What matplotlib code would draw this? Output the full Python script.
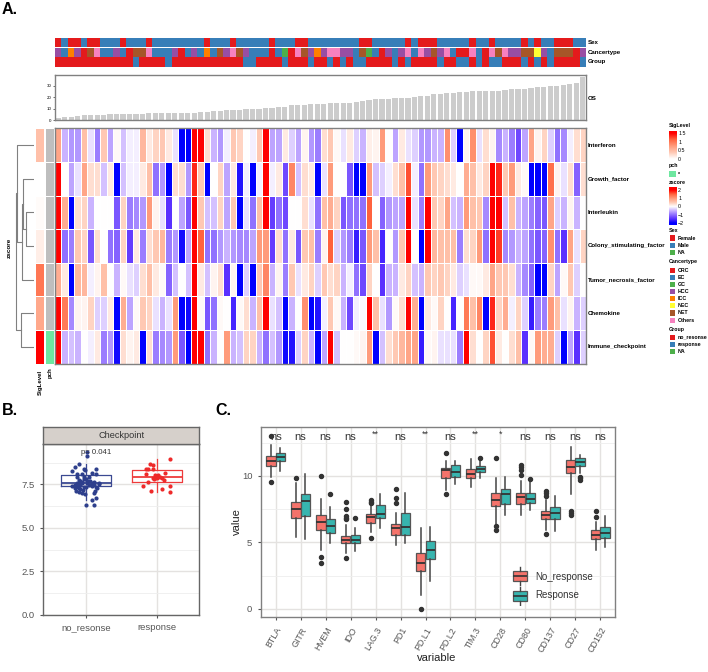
"""Composite figure: immune signature heatmap, checkpoint boxplot, per-gene boxplots."""
import matplotlib

matplotlib.use("Agg")
import matplotlib.pyplot as plt
import numpy as np
from matplotlib.colors import LinearSegmentedColormap, ListedColormap
from matplotlib.transforms import Affine2D

W, H = 708, 672
plt.rcParams["font.family"] = ["Liberation Sans", "DejaVu Sans"]

# ---- panel A data
ROWS = ["Interferon", "Growth_factor", "Interleukin", "Colony_stimulating_factor",
        "Tumor_necrosis_factor", "Chemokine", "Immune_checkpoint"]
INTERFERON = [0.9,-0.5,-0.7,-0.7,0.6,-0.2,-0.9,0.5,-0.6,0.05,-0.4,-0.1,-0.1,0.7,0.2,0.4,0.5,0.2,-0.2,-2,-2,2,2,0.3,-0.5,-0.7,-0.1,0.5,0.4,0,-0.1,0.5,2,-0.6,-0.6,0.2,-0.3,-0.6,0.1,-0.7,-0.9,
              0.3,0.5,0.05,-0.2,0.2,-0.3,-0.5,0.15,0.1,1.0,0,-0.6,0.2,-0.2,-0.3,-0.7,-0.7,-0.5,-0.5,1.1,-0.3,-2,0.1,1.1,-0.2,0.3,0.1,-0.8,-0.5,-0.9,-1.3,-0.6,0.9,0.1,0.4,-0.3,-1,-0.8,-0.1,0.3,0.4]
GROWTH = [2,0,-0.6,-0.2,0.9,0.3,0.3,-0.4,0.2,-2,-0.4,-0.1,-0.1,0.2,0.6,-1,-0.7,-2,0.3,0.3,-0.7,1.8,0.5,-2,0,0.4,-0.6,0.2,-1.8,-0.1,-2,-0.1,2,-0.1,0.2,-1.3,1.2,-0.4,0.3,0.2,-2,
          -0.2,1,0,0,-1.2,-2,-2,1,-0.4,-0.3,-0.1,0.3,0.6,1.6,-0.1,-1,1,0.5,0.4,0.3,0.2,0,0.8,0.6,0.2,0.4,2,1.8,0.5,1,0.2,0.05,-2,-2,-2,1.4,0.1,-0.2,0.3,-1.1,0.3]
INTERLEUKIN = [2,0.8,-2,0.3,0.4,-0.5,0,0,0,-1.2,0.4,-0.9,-0.8,-0.7,1,0.1,-0.2,-1.5,0,-0.6,-1.2,2,0.5,-0.4,-0.4,0.4,-0.6,0.5,-2,-0.2,-1,0.6,2,-1.4,-1,-1.3,0,0,0.3,-0.2,-1,
               0.6,0.8,0.4,-1.2,-1,-1,-1,1.5,0,-1.1,-0.7,-0.6,-0.6,2,-0.2,-0.9,2,0.5,0.4,0.9,-0.4,-0.5,1,0.6,0.5,-0.8,2,2,-0.4,0.6,-0.5,-0.6,-0.9,-1.1,-1.2,0.9,-0.3,-0.5,0.1,-0.5,0]
COLONY = [2,-1,-0.9,0.5,0.4,-1.2,0.3,0,-1,-1.1,0.4,-1.4,0.2,-0.9,0.3,0.5,0.7,-0.9,-0.7,-1.9,-0.6,2,1.5,-1,-1,-0.7,-0.5,-0.7,-0.8,-0.8,-0.6,1,1,-1.4,0.3,-1,0.2,-1.2,0.5,0.6,-0.9,
          0.1,1.5,-0.3,-0.7,-0.9,-1.7,-1.2,1,0.6,-1.6,0,-0.7,0.5,2,0,-2,2,0.7,0.6,0.6,0.6,-0.9,0.3,0.4,1,-1,2,1.7,-0.8,-0.7,-0.5,-0.6,-1,-1.2,-1.1,1.1,-1,-1.5,0.9,-0.2,0.4]
TUMOR = [0.8,0.2,-2,0.7,0.7,-0.1,0.1,0.6,0,-0.5,0.05,-0.2,-0.3,0.3,0.6,0.2,0.05,-1.1,-0.4,0,-0.4,2,0.2,-0.4,0.1,0.3,-1.5,0.1,-2,-0.3,-2,0.5,1.2,-0.5,0.1,-0.9,0.5,-0.2,0.2,0.4,-0.3,
         0.5,0.3,0.4,-0.5,-0.1,-1,-1.3,0.4,0,-1.5,-0.5,-0.5,0.2,0.4,-0.4,-0.5,0.5,0.4,0.5,0.4,0.2,-0.3,-0.2,0.05,0.05,0.2,0.9,0.5,0.5,0.3,-0.5,-0.8,-1.1,-2,-2,0.4,-0.6,0.05,0.5,-0.3,0]
CHEMOKINE = [2,1.3,-0.8,0.1,0.1,0.4,-0.3,-0.3,0.2,-2,0.8,-0.6,0.05,0.5,0.4,-0.2,-0.5,-0.2,1,-2,-1.9,2,0.05,-1.2,-1,0.05,0,-1.6,0.05,0.3,-0.5,0.6,2,-0.2,-0.4,-2,-0.5,0,1.1,-2,-1.8,
             -0.1,0.5,0.05,-0.5,-1.3,-0.1,-0.05,2,0.6,-0.2,-0.7,0.05,0.3,2,0.8,-2,0.2,0.05,0.4,0,-1.6,0,1.3,0.6,1.2,-2,1.8,0.4,0.8,-0.1,0.4,-0.3,-1.7,-0.9,-0.9,1,0.6,-0.2,0.1,-0.5,-0.3]
IMMUNE = [2,-0.5,-0.4,-0.5,0,-0.1,0.2,-0.9,-0.7,-1.9,0.3,0.1,0.2,-2,0.3,-0.9,-0.8,-0.7,1,-1.2,-2,2,2,-1,-0.5,0,1,-0.5,-0.4,0.4,0.4,-0.5,-1,-0.4,-0.7,-1.9,-1.8,-0.3,0.4,-0.5,-2,
          -0.6,2,-0.4,0,0,0.05,0.1,1,-2,-0.4,0.3,0.5,0.7,0.9,0.9,-1.7,0.05,0.1,-0.2,-0.2,-0.2,-0.9,2,0.3,0,0.4,1.6,0.2,0,0.3,0.6,-1.5,0.05,1,0.8,0.8,-0.3,-2,-0.6,-1.5,-0.3]
SIG_LEVEL = [0.45, 0.0, 0.03, 0.12, 1.0, 0.65, 1.5]
PCH_FLAG = [0, 0, 0, 0, 0, 0, 1]
OS_MONTHS = [1.8,2.5,3,3.3,4.2,4.1,4.2,4.3,5,5.2,5.2,5.3,5.5,5.7,5.8,6,6,6,6.1,6.2,6.3,6.4,6.9,7,7.6,8.2,8.9,9,9.1,9.3,
             9.6,9.8,10.2,10.6,11.2,11.6,13,13.2,13.4,13.8,14,14.1,14.6,15.2,15.3,15.4,15.6,16.8,18,18.1,18.2,18.3,19,19.2,19.4,
             20.6,21,21.3,23,23.2,23.4,24,24.6,24.9,25.3,25.6,25.8,25.9,26,26.5,27,27.2,27.6,28.6,28.9,29.4,29.8,30,31.2,31.5,32.6,38]
SEX = [0,1,0,0,1,0,0,1,1,1,0,1,1,1,0,1,1,1,1,1,1,1,1,0,1,1,1,0,1,1,1,1,1,0,1,1,1,0,0,1,1,1,1,1,1,1,1,
       0,0,1,1,1,1,1,0,1,0,0,0,1,1,1,1,1,0,1,1,0,1,1,1,1,0,1,0,1,1,0,0,0,1,1]
CANCER = [3,1,4,3,0,6,7,1,1,3,1,0,6,6,7,1,1,1,3,0,1,3,1,4,1,6,3,7,6,3,1,1,1,0,1,2,0,7,6,3,
          4,3,7,7,3,3,1,6,2,1,0,3,1,3,7,1,7,3,6,3,7,1,0,0,7,1,0,7,6,7,3,3,6,6,5,3,1,6,6,6,0,3]
GROUP = [0,0,0,0,0,0,0,0,0,0,0,0,1,0,0,0,0,1,0,0,0,0,0,0,0,0,0,0,0,1,1,0,0,0,0,1,0,0,0,1,0,0,
         1,0,1,0,1,1,0,0,0,0,1,0,1,0,0,0,0,1,0,0,1,1,0,1,0,1,1,0,0,0,1,0,1,0,1,0,0,0,0,1]
ANNOT_NAMES = ["Sex", "Cancertype", "Group"]
PALETTE = ["#E41A1C", "#377EB8", "#4DAF4A", "#984EA3", "#FF7F00", "#FFFF33", "#A65628", "#F781BF"]
SEX_KEYS = ["Female", "Male", "NA"]
CANCER_KEYS = ["CRC", "EC", "GC", "HCC", "ICC", "NEC", "NET", "Others"]
GROUP_KEYS = ["no_resonse", "response", "NA"]
# merges: left node, right node, height in px; leaves are the row numbers 0-6
DEND_MERGES = [(2, 3, 8.6), (1, 7, 11), (8, 4, 12), (0, 9, 17.6), (5, 6, 13), (10, 11, 18.3)]

# ---- panel B data
B_GROUPS = ["no_resonse", "response"]
B_Q1 = [7.40, 7.62]
B_MED = [7.56, 7.94]
B_Q3 = [8.02, 8.33]
B_LOW = [6.60, 7.08]
B_HIGH = [8.70, 8.94]
B_NO_VALUES = [9.38,9.13,8.65,8.48,8.25,8.40,8.33,8.40,8.13,8.13,8.17,8.13,7.94,7.94,7.94,7.75,7.79,7.81,7.69,7.65,7.60,7.56,7.60,7.56,
               7.52,7.50,7.42,7.37,7.46,7.37,7.27,7.27,7.37,7.27,7.13,7.04,6.98,6.94,7.13,7.02,6.71,6.60,6.31,6.31,7.21,7.46,
               7.65,7.70,7.48,7.42,7.33,7.60,7.18,7.50,7.72]
B_NO_JITTER = [0.01,0.01,-0.10,-0.15,-0.20,-0.03,-0.01,0.14,-0.13,-0.06,0.08,0.15,-0.12,-0.03,0.04,-0.10,-0.03,0,0.06,0.11,0.18,-0.13,-0.06,0.02,
               0.11,0.19,-0.20,-0.14,-0.08,0.15,-0.15,-0.09,-0.03,0.16,-0.14,-0.10,-0.06,-0.01,0.13,0.12,0.15,0.08,0,0.11,-0.08,-0.15,
               -0.05,0.01,0.05,0.09,0,0.08,-0.04,-0.11,-0.08]
B_YES_VALUES = [8.94,8.69,8.62,8.37,8.37,8.40,8.15,8.12,8.04,8.02,7.98,7.94,7.90,7.85,7.81,7.73,7.62,7.40,7.42,7.23,7.10,7.08,7.90,7.90]
B_YES_JITTER = [0.18,-0.09,-0.05,-0.15,-0.13,-0.05,0.12,-0.15,0.02,-0.02,0,0.04,0.08,-0.06,-0.04,0.10,-0.12,-0.19,0.18,0.07,-0.08,0.19,-0.03,0.01]

# ---- panel C data
GENES = ["BTLA", "GITR", "HVEM", "IDO", "LAG.3", "PD1", "PD.L1", "PD.L2", "TIM.3", "CD28", "CD80", "CD137", "CD27", "CD152"]
SIGNIF = ["ns", "ns", "ns", "ns", "**", "ns", "**", "ns", "**", "*", "ns", "ns", "ns", "ns"]
NO_Q1 = [10.73,6.82,5.91,4.94,6.49,5.59,2.83,9.87,9.82,7.74,7.92,6.74,10.2,5.29]
NO_MED = [11.15,7.54,6.52,5.21,6.89,6.07,3.43,10.45,10.18,8.2,8.4,7.07,10.65,5.56]
NO_Q3 = [11.5,8.05,7.07,5.51,7.12,6.39,4.24,10.58,10.55,8.7,8.75,7.37,11.23,5.94]
NO_LOW = [9.9,5.39,4.44,4.19,5.76,4.81,1.05,8.95,9.2,6.39,7.04,5.94,8.62,4.44]
NO_HIGH = [12.33,9.45,8.25,6.34,7.82,7.24,6.09,11.15,11.3,9.82,9.65,8.2,12.2,6.57]
NO_FLIERS = [[9.52,13.03],[9.85],[10.0,3.88,3.46],[3.86,8.07,7.54,6.99,6.87,6.74],[5.31,8.2,8.05,7.95],[9.05,8.35,7.95],[0.0],
             [11.75,8.62],[],[11.33,6.27,5.91],[10.83,10.65,10.45,10.05],[5.64,8.87,8.7,8.5],[7.37,7.19,7.04],[7.34,6.94]]
YES_Q1 = [11.1,7.0,5.69,4.94,6.82,5.56,3.78,9.92,10.33,7.92,8.0,6.79,10.75,5.36]
YES_MED = [11.4,8.15,6.24,5.21,7.14,6.19,4.44,10.33,10.55,8.67,8.27,7.24,11.08,5.74]
YES_Q3 = [11.7,8.62,6.74,5.54,7.82,7.24,5.14,10.85,10.75,9.05,8.7,7.64,11.33,6.14]
YES_LOW = [10.4,5.24,4.99,4.39,6.12,4.94,2.13,9.37,9.87,7.07,7.44,5.89,10.2,4.69]
YES_HIGH = [12.08,10.13,7.64,6.09,8.62,8.75,6.14,11.13,11.33,9.95,9.65,8.5,11.58,6.99]
YES_FLIERS = [[],[],[8.62],[6.84],[],[],[],[],[11.35],[],[9.75],[],[9.95,9.82,9.7],[]]
LEGEND_C = ["No_response", "Response"]

RED = "#F4736B"
TEAL = "#37B5AF"
FRAME = "#808080"

z_cmap = LinearSegmentedColormap.from_list(
    "z", ["#0000FF", "#5A30FF", "#9070FF", "#C9B2FF", "#FFFFFF", "#FFC9B4", "#FF9C7C", "#FF6540", "#FF0000"])
sig_cmap = LinearSegmentedColormap.from_list("sig", ["#FFFFFF", "#FFC9B4", "#FF9C7C", "#FF6540", "#FF0000"])

fig = plt.figure(figsize=(W / 100, H / 100), dpi=100)


def axpx(left, top, right, bottom):
    return fig.add_axes([left / W, 1 - bottom / H, (right - left) / W, (bottom - top) / H])


def txt(x, y, s, **kw):
    kw.setdefault("ha", "left")
    kw.setdefault("va", "center")
    fig.text(x / W, 1 - y / H, s, **kw)


def frame(ax, color=FRAME, lw=1.0):
    for sp in ax.spines.values():
        sp.set_color(color)
        sp.set_linewidth(lw)


def clear(ax):
    ax.set_xticks([])
    ax.set_yticks([])


# panel letters
txt(2, 9, "A.", fontsize=11.5, fontweight="bold")
txt(2, 410, "B.", fontsize=11.5, fontweight="bold")
txt(215, 410, "C.", fontsize=11.5, fontweight="bold")

# annotation tracks
for name, codes, top, bottom in zip(ANNOT_NAMES, [SEX, CANCER, GROUP], [37.7, 47.7, 57.3], [47.2, 56.9, 66.6]):
    ax = axpx(55, top, 586, bottom)
    ax.pcolormesh(np.array([codes]), cmap=ListedColormap(PALETTE), vmin=-0.5, vmax=7.5)
    clear(ax)
    for sp in ax.spines.values():
        sp.set_visible(False)
    txt(588, (top + bottom) / 2, name, fontsize=4.4, fontweight="bold")

# OS bars
ax = axpx(55, 75, 586, 120)
ax.bar(range(len(OS_MONTHS)), OS_MONTHS, width=0.8, color="#CCCCCC")
ax.set_xlim(-0.5, len(OS_MONTHS) - 0.5)
ax.set_ylim(0, 39.7)
ax.set_xticks([])
ax.set_yticks([0, 10, 20, 30])
ax.tick_params(axis="y", labelsize=3.2, length=1.5, width=0.4, pad=1)
frame(ax)
txt(588, 98, "OS", fontsize=4.4, fontweight="bold")

# main heatmap
heat = np.array([INTERFERON, GROWTH, INTERLEUKIN, COLONY, TUMOR, CHEMOKINE, IMMUNE])
ax = axpx(55, 128.3, 586, 363.7)
ax.pcolormesh(heat, cmap=z_cmap, vmin=-2, vmax=2, edgecolors="white", linewidth=0.5)
ax.invert_yaxis()
clear(ax)
frame(ax)
row_h = (363.7 - 128.3) / len(ROWS)
for i, name in enumerate(ROWS):
    txt(588, 128.3 + row_h * (i + 0.5), name, fontsize=4.4, fontweight="bold")

# left annotation columns
ax = axpx(35, 128.3, 43.8, 363.7)
ax.pcolormesh(np.array([SIG_LEVEL]).T, cmap=sig_cmap, vmin=0, vmax=1.5, edgecolors="white", linewidth=0.5)
ax.invert_yaxis()
ax.axis("off")
ax = axpx(44.5, 128.3, 53.5, 363.7)
ax.pcolormesh(np.array([PCH_FLAG]).T, cmap=ListedColormap(["#BEBEBE", "#6EE7A0"]), vmin=0, vmax=1,
              edgecolors="white", linewidth=0.5)
ax.invert_yaxis()
ax.axis("off")
txt(40, 395, "SigLevel", fontsize=4.4, fontweight="bold", rotation=90, ha="center", va="bottom")
txt(50, 378, "pch", fontsize=4.4, fontweight="bold", rotation=90, ha="center", va="bottom")
txt(9, 248, "zscore", fontsize=4.6, fontweight="bold", rotation=90, ha="center")

# dendrogram from the merge list
ax = axpx(14, 128.3, 34.3, 363.7)
node_y = {i: i + 0.5 for i in range(len(ROWS))}
node_h = {i: 0 for i in range(len(ROWS))}
for k, (a, b, h) in enumerate(DEND_MERGES):
    ax.plot([node_h[a], h, h, node_h[b]], [node_y[a], node_y[a], node_y[b], node_y[b]], color="#808080", lw=0.8)
    node_y[len(ROWS) + k] = (node_y[a] + node_y[b]) / 2
    node_h[len(ROWS) + k] = h
ax.set_xlim(20.3, 0)
ax.set_ylim(len(ROWS), 0)
ax.axis("off")

# right side legends
txt(669, 126, "SigLevel", fontsize=3.8, fontweight="bold")
ax = axpx(669, 131, 676, 160)
ax.imshow(np.linspace(1.62, -0.06, 100)[:, None], aspect="auto", cmap=sig_cmap, vmin=0, vmax=1.5,
          extent=(0, 1, -0.06, 1.62))
ax.set_xticks([])
ax.yaxis.tick_right()
ax.set_yticks([0, 0.5, 1, 1.5], ["0", "0.5", "1", "1.5"])
ax.tick_params(axis="y", length=0, labelsize=3.8, pad=1.5)
for sp in ax.spines.values():
    sp.set_visible(False)

txt(669, 166, "pch", fontsize=3.8, fontweight="bold")
ax = axpx(669, 171, 676, 177)
ax.pcolormesh([[1]], cmap=ListedColormap(["#6EE7A0"]))
ax.axis("off")
txt(678, 174, "*", fontsize=3.8, fontweight="bold")

txt(669, 183, "zscore", fontsize=3.8, fontweight="bold")
ax = axpx(669, 187, 676, 225)
ax.imshow(np.linspace(2.36, -2.24, 200)[:, None], aspect="auto", cmap=z_cmap, vmin=-2, vmax=2,
          extent=(0, 1, -2.24, 2.36))
ax.set_xticks([])
ax.yaxis.tick_right()
ax.set_yticks([-2, -1, 0, 1, 2], ["\u22122", "\u22121", "0", "1", "2"])
ax.tick_params(axis="y", length=0, labelsize=3.8, pad=1.5)
for sp in ax.spines.values():
    sp.set_visible(False)


def key_block(title, title_y, top, labels):
    txt(669, title_y, title, fontsize=3.8, fontweight="bold")
    step = 7.15
    ax = axpx(669, top, 676, top + step * len(labels))
    ax.pcolormesh(np.arange(len(labels))[:, None], cmap=ListedColormap(PALETTE), vmin=-0.5, vmax=7.5,
                  edgecolors="white", linewidth=0.15)
    ax.invert_yaxis()
    ax.axis("off")
    for i, lab in enumerate(labels):
        txt(678, top + step * (i + 0.5), lab, fontsize=3.8, fontweight="bold")


key_block("Sex", 230, 234.5, SEX_KEYS)
key_block("Cancertype", 262, 266.5, CANCER_KEYS)
key_block("Group", 330, 333.5, GROUP_KEYS)


def bw_axes(ax, minor):
    ax.set_axisbelow(True)
    ax.set_yticks(minor, minor=True)
    ax.grid(True, which="major", color="#E4E2E0", lw=1.0)
    ax.grid(True, which="minor", axis="y", color="#EEEEEE", lw=0.6)
    ax.tick_params(which="minor", length=0)
    ax.tick_params(which="major", colors="#555555", length=2.5, width=0.8)


# panel B
ax = axpx(43.3, 444, 199.3, 615)
b_stats = [{"q1": B_Q1[i], "med": B_MED[i], "q3": B_Q3[i], "whislo": B_LOW[i], "whishi": B_HIGH[i], "fliers": []}
           for i in range(2)]
for i, color in enumerate(["#3B4992", "#EE3B3B"]):
    ax.bxp([b_stats[i]], positions=[i + 1], widths=0.7, showcaps=False, showfliers=False, manage_ticks=False,
           boxprops={"color": color, "lw": 0.9}, medianprops={"color": color, "lw": 1.3},
           whiskerprops={"color": color, "lw": 0.9})
ax.scatter(1 + np.array(B_NO_JITTER), B_NO_VALUES, s=9, color="#2E3F8C", zorder=3, linewidths=0)
ax.scatter(2 + np.array(B_YES_JITTER), B_YES_VALUES, s=9, color="#EE2A2A", zorder=3, linewidths=0)
ax.set_xlim(0.4, 2.6)
ax.set_ylim(-0.02, 9.83)
ax.set_xticks([1, 2], B_GROUPS)
ax.set_yticks([0, 2.5, 5, 7.5], ["0.0", "2.5", "5.0", "7.5"])
bw_axes(ax, [1.25, 3.75, 6.25, 8.75])
ax.tick_params(axis="both", which="major", labelsize=6.8)
frame(ax, "#666666", 1.0)
ax.text(1.14, 9.33, "p= 0.041", fontsize=5.6, ha="center", va="center", color="#333333")
strip = axpx(43.3, 426.7, 199.3, 444)
strip.set_facecolor("#D6D0CB")
clear(strip)
frame(strip, "#666666", 1.0)
strip.text(0.5, 0.47, "Checkpoint", transform=strip.transAxes, fontsize=6.6, ha="center", va="center", color="#333333")

# panel C
ax = axpx(260.7, 427.3, 615.3, 617.3)
positions = np.arange(1, len(GENES) + 1)
for offset, color, q1, med, q3, low, high, fliers in [
    (-0.19, RED, NO_Q1, NO_MED, NO_Q3, NO_LOW, NO_HIGH, NO_FLIERS),
    (0.19, TEAL, YES_Q1, YES_MED, YES_Q3, YES_LOW, YES_HIGH, YES_FLIERS),
]:
    stats = [{"q1": q1[i], "med": med[i], "q3": q3[i], "whislo": low[i], "whishi": high[i], "fliers": fliers[i]}
             for i in range(len(GENES))]
    ax.bxp(stats, positions=positions + offset, widths=0.37, patch_artist=True, showcaps=False, manage_ticks=False,
           boxprops={"facecolor": color, "edgecolor": "#555555", "lw": 0.9},
           medianprops={"color": "#333333", "lw": 1.3},
           whiskerprops={"color": "#444444", "lw": 1.1},
           flierprops={"marker": "o", "markerfacecolor": "#333333", "markeredgecolor": "#333333", "markersize": 2.9})
for pos, mark in zip(positions, SIGNIF):
    is_star = "*" in mark
    ax.text(pos, 13.15 if is_star else 12.95, mark, ha="center", va="center", fontsize=6.4 if is_star else 8, color="#333333")
ax.set_xlim(0.4, 14.6)
ax.set_ylim(-0.63, 13.66)
ax.set_xticks(positions, GENES)
ax.set_yticks([0, 5, 10])
bw_axes(ax, [2.5, 7.5, 12.5])
ax.tick_params(axis="y", which="major", labelsize=6.8)
ax.tick_params(axis="x", which="major", labelsize=6.4)
for lab in ax.get_xticklabels():
    lab.set_rotation(60)
    lab.set_ha("right")
    lab.set_rotation_mode("anchor")
frame(ax, FRAME, 1.0)
txt(237, 522, "value", fontsize=8, rotation=90, ha="center", color="#222222")
txt(437, 658, "variable", fontsize=8, ha="center", color="#222222")

# panel C legend keys
key_ax = axpx(507, 566, 533, 606)
key_stats = [{"q1": 0.25, "med": 0.5, "q3": 0.75, "whislo": 0.05, "whishi": 0.95, "fliers": []}]
for y_off, color in zip([1.0, 0.0], [RED, TEAL]):
    key_ax.bxp(key_stats, positions=[0.5], widths=0.55, patch_artist=True, showcaps=False, showfliers=False,
               manage_ticks=False, boxprops={"facecolor": color, "edgecolor": "#555555", "lw": 0.9},
               medianprops={"color": "#333333", "lw": 1.2}, whiskerprops={"color": "#444444", "lw": 1.0})
    for artist in list(key_ax.lines[-3:]) + list(key_ax.patches[-1:]):
        artist.set_transform(Affine2D().translate(0, y_off) + key_ax.transData)
key_ax.set_xlim(0, 1)
key_ax.set_ylim(0, 2)
key_ax.axis("off")
for y, lab in zip([577, 595.5], LEGEND_C):
    txt(535.7, y, lab, fontsize=7, color="#333333")

fig.savefig("out.png", dpi=100, facecolor="white")
plt.close(fig)
